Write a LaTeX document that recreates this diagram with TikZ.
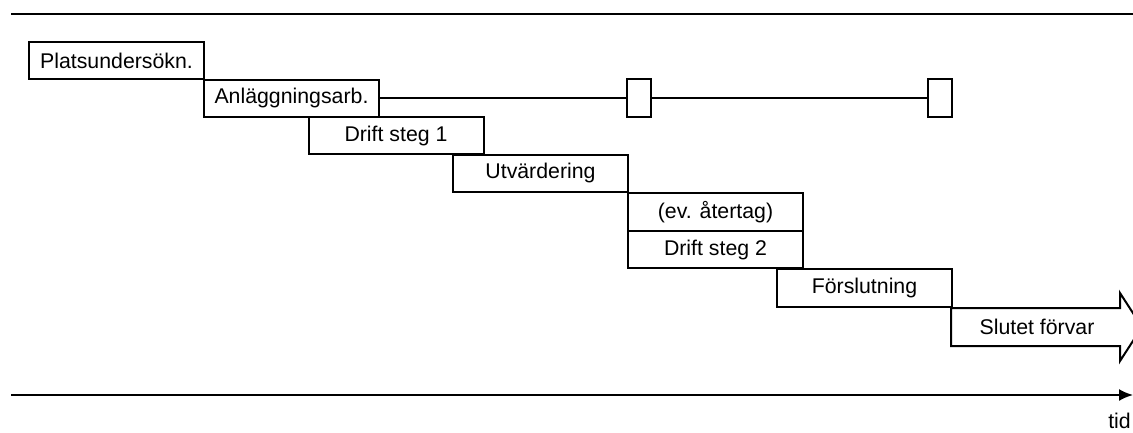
\documentclass[tikz,border=0pt]{standalone}
\usepackage{fontspec}
\setmainfont{Liberation Sans}
\usetikzlibrary{arrows.meta}
\begin{document}
\begin{tikzpicture}[x=1pt,y=-1pt,
  phase/.style={draw=black,line width=2pt,fill=white,inner sep=0pt,minimum width=175pt,minimum height=37pt,font=\fontsize{21.3}{24}\selectfont},
  tick/.style={draw=black,line width=2pt,fill=white,inner sep=0pt,minimum width=24pt,minimum height=38pt},
  rule/.style={line width=2pt},
  thin/.style={line width=1.5pt},
  lbl/.style={font=\fontsize{21.3}{24}\selectfont,inner sep=0pt}]
\useasboundingbox (0,0) rectangle (1133,432);
\clip (0,0) rectangle (1133,432);
% top rule
\coordinate (tl) at (11,14);
\coordinate (tr) at (1140,14);
\draw[rule] (tl) -- (tr);
% phase boxes
\node[phase] (p1) at (116.5,60.5) {Platsundersökn.};
\node[phase] (p2) at (291.5,98) {Anläggningsarb.};
\node[tick] (m1) at (639,98) {};
\node[tick] (m2) at (939.5,98) {};
\draw[thin] (p2.east) -- (m1.west);
\draw[thin] (m1.east) -- (m2.west);
\node[phase] (p3) at (396,135.5) {Drift steg 1};
\node[phase] (p4) at (540.5,173) {Utvärdering};
\node[phase,minimum height=38pt] (p5) at (715.5,212) {(ev. återtag)};
\node[phase] (p6) at (715.5,249.5) {Drift steg 2};
\node[phase,minimum height=38pt] (p7) at (864.5,288) {Förslutning};
% final arrow
\draw[line width=2pt,fill=white,line join=miter]
  (951,308) -- (1120,308) -- (1120,293) -- (1142,327) -- (1120,361) -- (1120,346) -- (951,346) -- cycle;
\node[lbl] (p8) at (1037,327) {Slutet förvar};
% time axis
\coordinate (al) at (11,395);
\coordinate (ar) at (1133,395);
\draw[rule,-{Latex[length=14pt,width=12pt]}] (al) -- (ar);
\node[lbl,anchor=base east] (tid) at (1131,428) {tid};
\end{tikzpicture}
\end{document}
